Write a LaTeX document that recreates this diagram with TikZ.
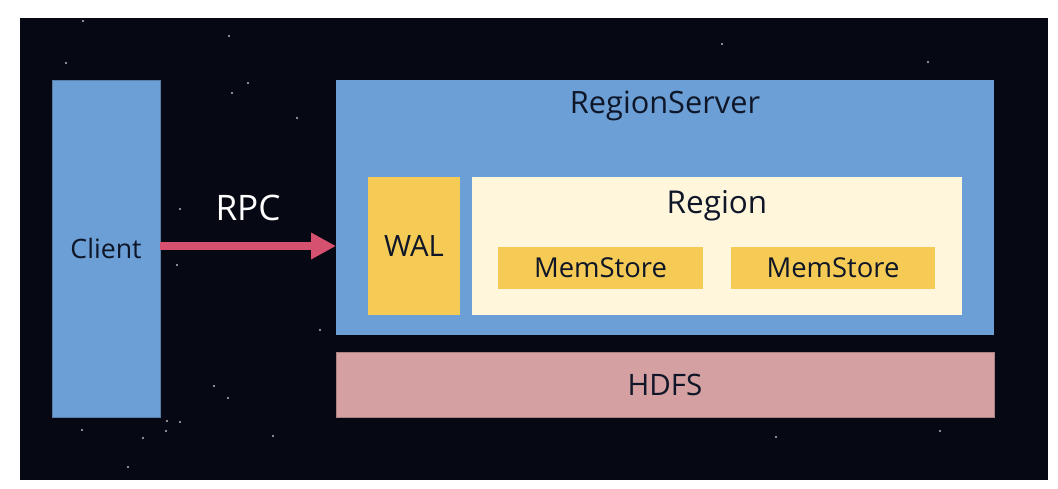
\documentclass[tikz,border=0pt]{standalone}
\usepackage{fontspec}
\setmainfont{Open Sans}
\usetikzlibrary{arrows.meta, positioning}
\definecolor{sky}{HTML}{060814}
\definecolor{rsblue}{HTML}{6B9FD5}
\definecolor{hdfspink}{HTML}{D4A0A1}
\definecolor{walyellow}{HTML}{F5CB55}
\definecolor{regioncream}{HTML}{FFF6DC}
\definecolor{rpcred}{HTML}{D6506F}
\definecolor{ink}{HTML}{0E1628}
\tikzset{
  box/.style={inner sep=0pt, outer sep=0pt, text=ink, align=center},
  star/.style={fill=gray!55, draw=none}
}

\begin{document}
\begin{tikzpicture}[x=0.02cm, y=-0.02cm, >=Latex, node distance=0.24cm]
        \useasboundingbox (0,0) rectangle (1058,488);
        \fill[sky] (20,18) rectangle (1048,480);
        % a few stars
        \foreach \sx/\sy in {83/21, 66/63, 229/36, 248/83, 232/93, 297/118, 722/44, 928/62, 214/386, 167/421, 180/422, 82/430, 143/438, 166/431, 128/467, 228/398, 273/436, 180/209, 177/265, 320/330, 940/431, 776/437}
            \fill[star] (\sx,\sy) circle (1.2);

        \node[box, fill=rsblue, draw=rsblue!80!black, minimum width=2.16cm, minimum height=6.74cm, font=\fontsize{15.2}{17}\selectfont] (Client) at (106,248.5) {Client};
        \node[box, fill=rsblue, minimum width=13.16cm, minimum height=5.1cm] (RS) at (665,207.5) {};
        \node[box, font=\fontsize{17.5}{20}\selectfont] (RSlabel) at (665,106) {RegionServer};
        \node[box, fill=hdfspink, draw=hdfspink!80!black, minimum width=13.16cm, minimum height=1.3cm, below=0.34cm of RS, font=\fontsize{16.8}{19}\selectfont] (HDFS) {HDFS};

        \node[box, fill=walyellow, minimum width=1.84cm, minimum height=2.78cm, font=\fontsize{16.7}{19}\selectfont] (WAL) at (414,246) {WAL};
        \node[box, fill=regioncream, minimum width=9.8cm, minimum height=2.78cm, right=of WAL] (Region) {};
        \node[box, font=\fontsize{17.9}{20}\selectfont] (Regionlabel) at (717,206) {Region};
        \node[box, fill=walyellow, minimum width=4.1cm, minimum height=0.84cm, font=\fontsize{15.6}{18}\selectfont] (MS1) at (600.5,268) {MemStore};
        \node[box, fill=walyellow, minimum width=4.08cm, minimum height=0.84cm, right=0.56cm of MS1, font=\fontsize{15.6}{18}\selectfont] (MS2) {MemStore};

        \draw[rpcred, line width=0.16cm, arrows={-Triangle[length=0.5cm, width=0.5cm]}] (Client.east |- WAL) -- (RS.west |- WAL) node[midway, above=0.3cm, text=white, font=\fontsize{20}{23}\selectfont] (RPC) {RPC};

    \end{tikzpicture}
\end{document}
